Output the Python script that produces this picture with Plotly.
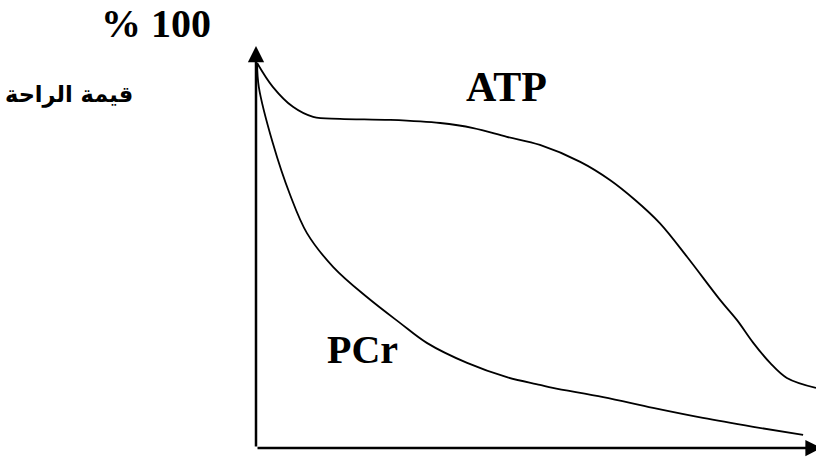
import plotly.graph_objects as go

# Time (arbitrary units, 0-100) and % of resting value
atp_x = [0.2, 3.0, 6.6, 10.2, 15.0, 23.9, 32.9, 38.8, 44.8, 50.7, 57.9, 63.2, 67.7, 72.1, 77.0, 82.9, 85.9, 88.8, 91.8, 94.8, 100.0]
atp_y = [100, 93.8, 88.6, 86.0, 85.5, 85.2, 84.4, 83.1, 80.8, 78.7, 74.3, 69.6, 64.4, 58.4, 49.6, 38.4, 33.2, 27.3, 22.1, 18.2, 15.6]

pcr_x = [0.2, 0.5, 3.0, 6.1, 9.1, 13.8, 19.8, 25.7, 30.5, 37.7, 44.8, 50.7, 53.0, 62.0, 70.9, 79.8, 88.8, 97.7]
pcr_y = [100, 93.8, 79.2, 65.7, 55.8, 47.0, 39.2, 32.5, 27.3, 22.1, 18.4, 16.4, 15.6, 13.2, 10.4, 7.8, 5.5, 3.4]

x_max = 100
y_max = 104.4

L, T = 256, 46
PW, PH = 560, 402


def px(xp):
    return (xp - L) / PW


def py(yp):
    return (T + PH - yp) / PH


fig = go.Figure()
fig.add_trace(go.Scatter(x=atp_x, y=atp_y, mode="lines", line=dict(color="black", width=1.8, shape="spline"),
                         cliponaxis=False, showlegend=False, hoverinfo="skip"))
fig.add_trace(go.Scatter(x=pcr_x, y=pcr_y, mode="lines", line=dict(color="black", width=1.8, shape="spline"),
                         cliponaxis=False, showlegend=False, hoverinfo="skip"))

serif = "Liberation Serif, Times New Roman, serif"
annotations = [
    # axes with arrowheads
    dict(x=0, y=y_max, ax=0, ay=0, xref="x", yref="y", axref="x", ayref="y", text="",
         showarrow=True, arrowhead=2, arrowsize=1.3, arrowwidth=2.5, arrowcolor="black"),
    dict(x=x_max * 1.01, y=0, ax=0, ay=0, xref="x", yref="y", axref="x", ayref="y", text="",
         showarrow=True, arrowhead=2, arrowsize=1.3, arrowwidth=2.5, arrowcolor="black"),
    # labels
    dict(x=px(156), y=py(24), xref="paper", yref="paper", text="% 100",
         showarrow=False, xanchor="center", yanchor="middle",
         font=dict(family=serif, size=40, color="black", weight="bold")),
    dict(x=px(135), y=py(95), xref="paper", yref="paper", text="قيمة الراحة",
         showarrow=False, xanchor="right", yanchor="middle",
         font=dict(family="DejaVu Sans", size=22.5, color="black", weight="bold")),
    dict(x=px(506), y=py(86.5), xref="paper", yref="paper", text="ATP",
         showarrow=False, xanchor="center", yanchor="middle",
         font=dict(family=serif, size=42, color="black", weight="bold")),
    dict(x=px(362), y=py(349.5), xref="paper", yref="paper", text="PCr",
         showarrow=False, xanchor="center", yanchor="middle",
         font=dict(family=serif, size=40, color="black", weight="bold")),
]

fig.update_layout(
    width=816, height=462,
    margin=dict(l=L, r=0, t=T, b=462 - T - PH),
    paper_bgcolor="white", plot_bgcolor="white",
    xaxis=dict(range=[0, x_max], visible=False, fixedrange=True),
    yaxis=dict(range=[0, y_max], visible=False, fixedrange=True),
    annotations=annotations,
    showlegend=False,
)

fig.write_html("out.html", config={"displayModeBar": False},
               post_script="document.body.style.margin='0px';document.body.style.overflow='hidden';")
